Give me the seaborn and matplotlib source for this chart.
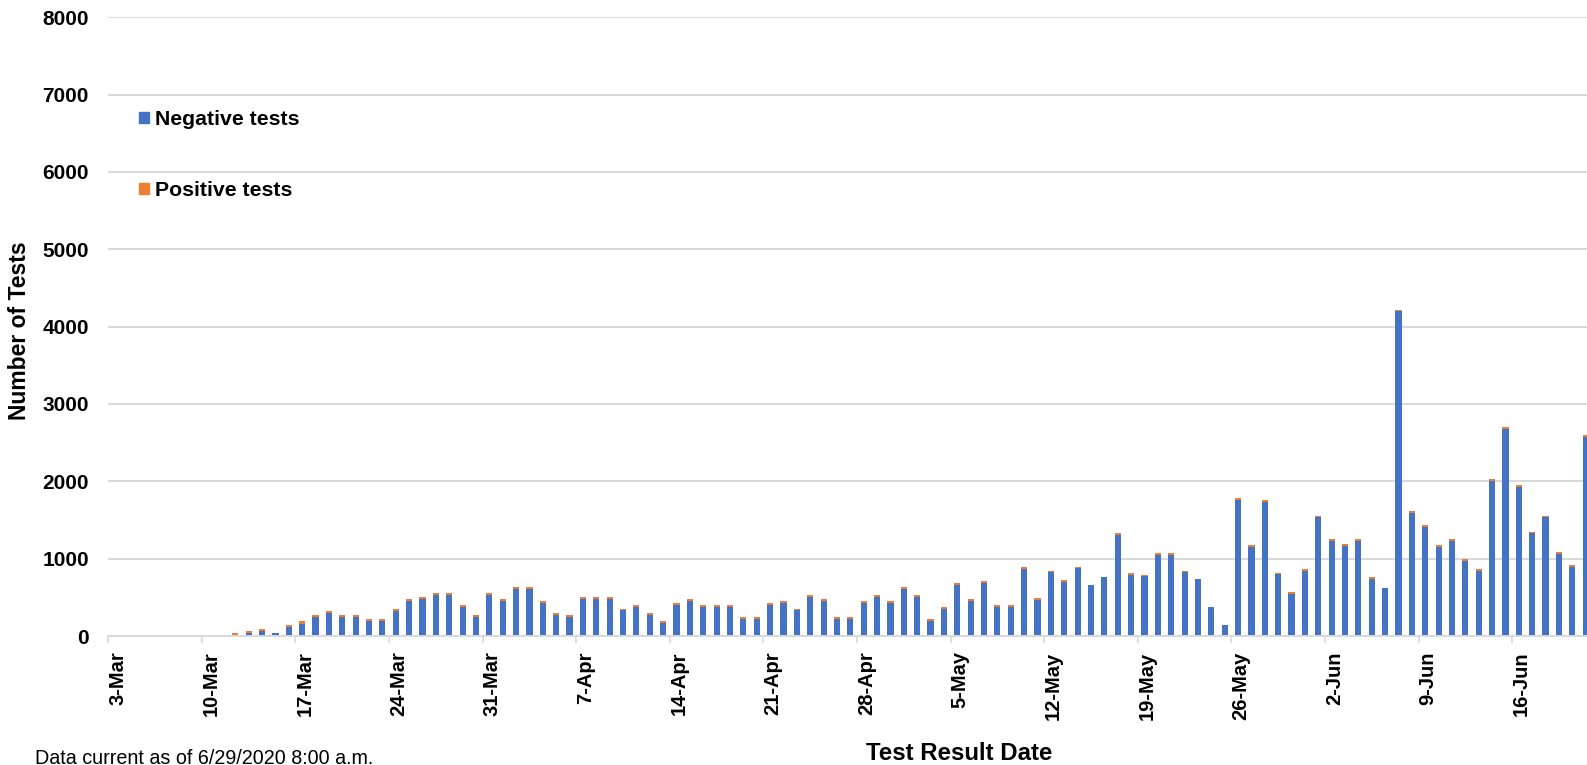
import numpy as np
import pandas as pd
import matplotlib
matplotlib.use("Agg")
import matplotlib.pyplot as plt
import seaborn as sns
from matplotlib.patches import Patch

# ---- data ----
dates = pd.date_range("2020-03-03", "2020-06-21", freq="D")
date_labels = [f"{d.day}-{d.strftime('%b')}" for d in dates]

negative_tests = [
    # 3-Mar .. 31-Mar
    0, 0, 0, 0, 0, 0, 0, 0, 0, 9, 41, 66, 34, 112, 159, 251, 298, 246, 246, 195,
    195, 323, 456, 473, 524, 529, 375, 246, 529,
    # April
    452, 607, 607, 431, 272, 246, 483, 478, 478, 333, 375, 272, 174, 401, 452,
    375, 380, 375, 220, 220, 401, 426, 333, 504, 452, 225, 220, 426, 509, 426,
    # May
    607, 504, 200, 349, 658, 457, 684, 375, 380, 870, 461, 822, 697, 873, 665,
    764, 1310, 795, 775, 1053, 1053, 826, 738, 378, 146, 1753, 1156, 1732, 800,
    549, 838,
    # June 1..21
    1537, 1226, 1170, 1231, 734, 625, 4196, 1592, 1407, 1153, 1226, 967, 838,
    2007, 2678, 1924, 1330, 1532, 1066, 894, 2570,
]
positive_tests = [
    0, 0, 0, 0, 0, 0, 0, 0, 0, 25, 18, 22, 0, 28, 30, 22, 25, 25, 25, 25,
    25, 28, 25, 28, 28, 25, 25, 25, 25,
    25, 25, 25, 20, 25, 25, 20, 25, 25, 20, 25, 25, 20, 25, 25,
    25, 20, 25, 25, 25, 25, 25, 20, 25, 25, 20, 25, 25, 20, 25,
    25, 25, 20, 25, 25, 20, 25, 25, 20, 25, 25, 20, 25, 25, 0,
    0, 25, 25, 20, 25, 25, 20, 0, 0, 0, 25, 25, 20, 20,
    25, 25,
    20, 25, 25, 20, 25, 0, 20, 25, 25, 20, 25, 25, 25,
    20, 25, 25, 20, 25, 25, 20, 25,
]
total_tests = [n + p for n, p in zip(negative_tests, positive_tests)]

y_ticks = [0, 1000, 2000, 3000, 4000, 5000, 6000, 7000, 8000]

df = pd.DataFrame({"date": date_labels, "neg": negative_tests,
                   "pos": positive_tests, "total": total_tests})

BLUE = "#4472C4"
ORANGE = "#ED7D31"
GRID = "#D9D9D9"

W, H = 1587, 765
fig = plt.figure(figsize=(W / 100, H / 100), dpi=100)
plt.rcParams["font.family"] = ["Liberation Sans", "DejaVu Sans"]

ax_left, ax_bottom, ax_top = 108.3, 636.0, 17.2
ax = fig.add_axes([ax_left / W, (H - ax_bottom) / H, 1 - ax_left / W,
                   (ax_bottom - ax_top) / H])

sns.barplot(data=df, x="date", y="total", order=date_labels, color=ORANGE,
            saturation=1, width=0.46, errorbar=None, ax=ax, linewidth=0)
sns.barplot(data=df, x="date", y="neg", order=date_labels, color=BLUE,
            saturation=1, width=0.46, errorbar=None, ax=ax, linewidth=0)

ax.set_ylim(0, 8000)
n_per_px = 13.37
ax.set_xlim(-0.5, -0.5 + (W - ax_left) / n_per_px)

ax.set_yticks(y_ticks)
ax.set_yticklabels([str(v) for v in y_ticks], fontsize=15, fontweight="bold")
ax.tick_params(axis="y", length=0, pad=14)

# tick marks at category boundaries, labels near category centres
ax.set_xticks(np.arange(-0.5, len(date_labels), 7), minor=True)
ax.tick_params(axis="x", which="minor", length=5, width=1.2, color=GRID)
ax.set_xticks(np.arange(0, len(date_labels), 7) + 0.2)
ax.set_xticklabels(date_labels[::7], rotation=90, fontsize=14.5,
                   fontweight="bold", va="top", ha="center")
ax.tick_params(axis="x", which="major", length=0, pad=11)

ax.set_axisbelow(True)
ax.yaxis.grid(True, color=GRID, linewidth=1.4)
ax.xaxis.grid(False)
for s in ["left", "top", "right"]:
    ax.spines[s].set_visible(False)
ax.spines["bottom"].set_color(GRID)
ax.spines["bottom"].set_linewidth(1.4)
ax.set_xlabel("")
ax.set_ylabel("")
ax.set_facecolor("white")

handles = [Patch(color=BLUE, label="Negative tests"),
           Patch(color=ORANGE, label="Positive tests")]
fig.legend(handles=handles, loc="upper left",
           bbox_to_anchor=(139 / W, (H - 110) / H), frameon=False,
           prop={"size": 15.3, "weight": "bold"}, handlelength=0.47,
           handleheight=0.47, handletextpad=0.3, labelspacing=2.45,
           borderpad=0, borderaxespad=0)

fig.text(20 / W, 1 - 331 / H, "Number of Tests", rotation=90, ha="center",
         va="center", fontsize=16.5, fontweight="bold")
fig.text(959 / W, 1 - 742 / H, "Test Result Date", ha="center", va="top",
         fontsize=17.3, fontweight="bold")
fig.text(35 / W, 1 - 749 / H, "Data current as of 6/29/2020 8:00 a.m.",
         ha="left", va="top", fontsize=14.2)

fig.savefig("out.png", dpi=100, facecolor="white")
